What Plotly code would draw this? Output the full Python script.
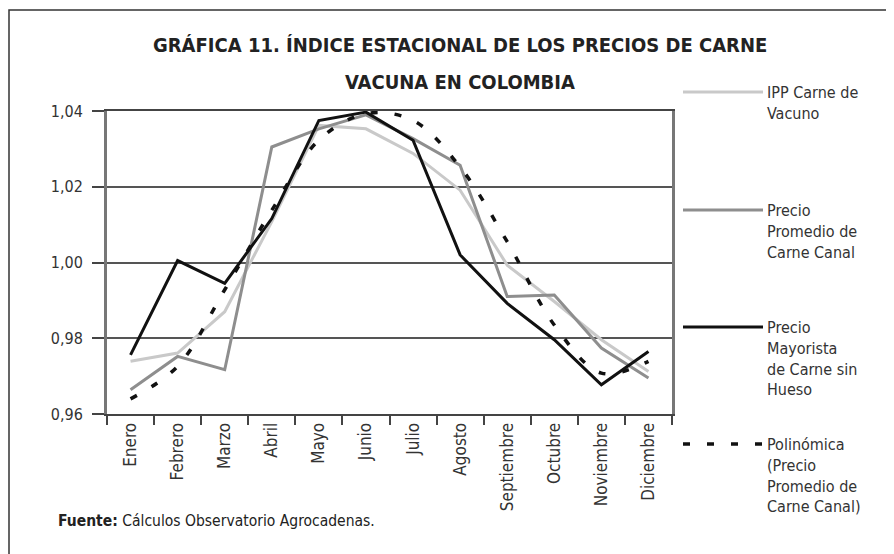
import plotly.graph_objects as go

##### datos #####
meses = ["Enero", "Febrero", "Marzo", "Abril", "Mayo", "Junio", "Julio",
         "Agosto", "Septiembre", "Octubre", "Noviembre", "Diciembre"]

ipp_carne_vacuno = [0.9739, 0.9761, 0.9870, 1.0108, 1.0362, 1.0353, 1.0288,
                    1.0191, 0.9993, 0.9897, 0.9796, 0.9712]
precio_canal = [0.9664, 0.9752, 0.9717, 1.0305, 1.0353, 1.0390, 1.0327,
                1.0257, 0.9910, 0.9914, 0.9774, 0.9695]
precio_mayorista = [0.9756, 1.0005, 0.9945, 1.0116, 1.0375, 1.0397, 1.0323,
                    1.0020, 0.9892, 0.9796, 0.9677, 0.9765]
polinomica = [0.9640, 0.9726, 0.9928, 1.0138, 1.0323, 1.0393, 1.0375,
              1.0252, 1.0055, 0.9835, 0.9708, 0.9739]

nombres = ["IPP Carne de<br>Vacuno",
           "Precio<br>Promedio de<br>Carne Canal",
           "Precio<br>Mayorista<br>de Carne sin<br>Hueso",
           "Polinómica<br>(Precio<br>Promedio de<br>Carne Canal)"]

y_ticks = [0.96, 0.98, 1.00, 1.02, 1.04]

fuente = "DejaVu Sans Condensed, Liberation Sans Narrow, Arial Narrow, Liberation Sans, Arial"

estilos = [dict(color="#c9c9c9", width=3),
           dict(color="#8e8e8e", width=3),
           dict(color="#111111", width=3),
           dict(color="#111111", width=3.5, dash="7px,17px")]

series = [ipp_carne_vacuno, precio_canal, precio_mayorista, polinomica]

fig = go.Figure()
for serie, nombre, estilo in zip(series, nombres, estilos):
    fig.add_trace(go.Scatter(x=meses, y=serie, mode="lines", name=nombre,
                             line=estilo, showlegend=False,
                             line_shape="spline" if "dash" in estilo else "linear"))

# la página tiene 8px de margen en el body: todo se mide en px de la página
OFF = 8
PX0, PX1, PY0, PY1 = 107, 672, 111, 414   # área de trazado en la página
FW, FH = 894 - OFF, 554 - OFF

def px_x(p):
    return (p - PX0) / (PX1 - PX0)

def px_y(p):
    return (PY1 - p) / (PY1 - PY0)

## leyenda manual a la derecha
leg_y = [92, 210, 327, 444]
for nombre, estilo, yy in zip(nombres, estilos, leg_y):
    fig.add_shape(type="line", xref="paper", yref="paper",
                  x0=px_x(683), x1=px_x(763), y0=px_y(yy), y1=px_y(yy),
                  line=estilo)
    fig.add_annotation(text=nombre, xref="paper", yref="paper",
                       x=px_x(765), y=px_y(yy - 11), xanchor="left", yanchor="top",
                       align="left", showarrow=False,
                       font=dict(family=fuente, size=16, color="#333333"))

# marco exterior
fig.add_shape(type="rect", xref="paper", yref="paper",
              x0=px_x(9), x1=px_x(905), y0=px_y(10), y1=px_y(565),
              line=dict(color="#333333", width=1.5), layer="below")

## título en dos líneas
titulo = ["<b>GRÁFICA 11. ÍNDICE ESTACIONAL DE LOS PRECIOS DE CARNE</b>",
          "<b>VACUNA EN COLOMBIA</b>"]
for txt, yy in zip(titulo, [45, 82]):
    fig.add_annotation(text=txt, xref="paper", yref="paper",
                       x=px_x(460), y=px_y(yy), xanchor="center", yanchor="middle",
                       showarrow=False, font=dict(family=fuente, size=20, color="#222222"))

fig.add_annotation(text="<b>Fuente:</b> Cálculos Observatorio Agrocadenas.",
                   xref="paper", yref="paper", x=px_x(56), y=px_y(521),
                   xanchor="left", yanchor="middle", showarrow=False,
                   font=dict(family=fuente, size=15.5, color="#222222"))

fig.update_layout(
    width=FW, height=FH,
    margin=dict(l=PX0 - OFF, r=894 - PX1, t=PY0 - OFF, b=554 - PY1),
    paper_bgcolor="white", plot_bgcolor="white",
    separators=",.",
    font=dict(family=fuente, size=14, color="#333333"),
)

fig.update_xaxes(type="category", range=[-0.5, 11.5], tickson="boundaries",
                 ticks="outside", ticklen=9, tickcolor="#444444", tickwidth=2,
                 tickangle=-90, showline=True, linecolor="#444444", linewidth=2,
                 mirror=True, showgrid=False, tickfont=dict(size=17))
fig.update_yaxes(range=[0.96, 1.04], tickvals=y_ticks, tickformat=".2f",
                 ticks="outside", ticklen=12, tickcolor="#444444", tickwidth=2,
                 ticklabelstandoff=6,
                 showline=True, linecolor="#777777", linewidth=3, mirror=True,
                 showgrid=True, gridcolor="#555555", gridwidth=2,
                 zeroline=False, tickfont=dict(size=16))

fig.write_html("out.html")
